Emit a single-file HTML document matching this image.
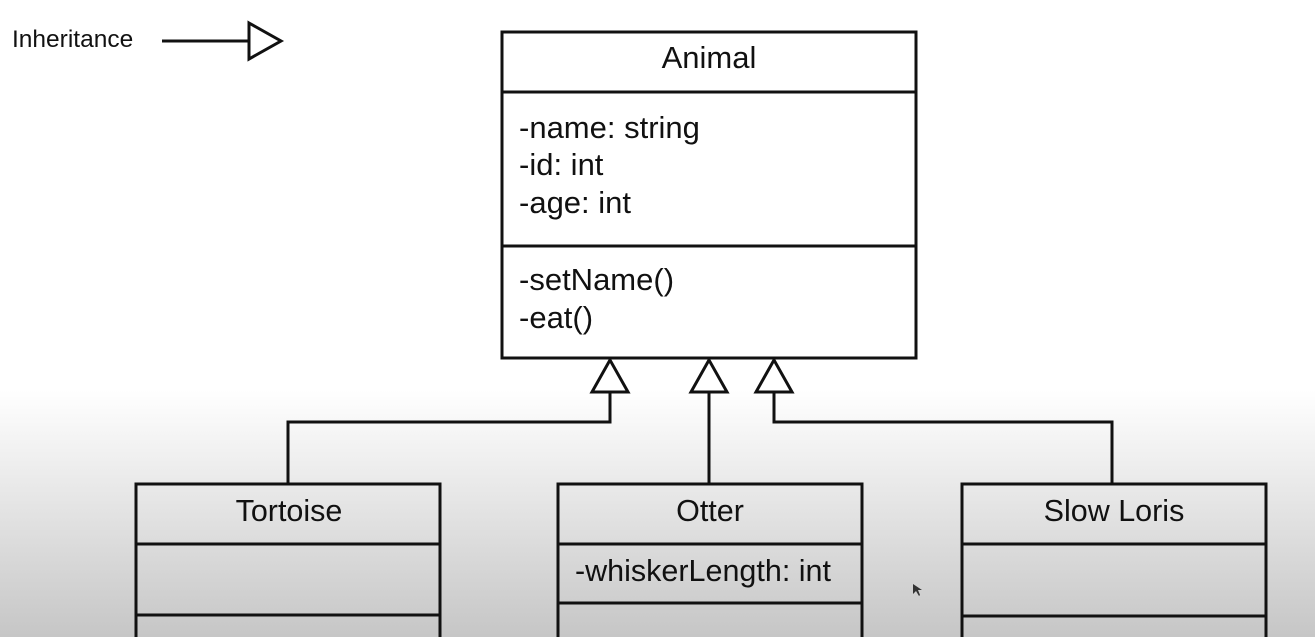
<!DOCTYPE html>
<html><head><meta charset="utf-8"><style>
html,body{margin:0;padding:0}
body{width:1315px;height:637px;overflow:hidden;background:linear-gradient(to bottom,#fff 0px,#fff 390px,#c6c6c6 637px);}
svg{position:absolute;left:0;top:0}
text{font-family:"Liberation Sans",sans-serif;fill:#111}
</style></head><body>
<svg width="1315" height="637" viewBox="0 0 1315 637">
<g stroke="#111" stroke-width="3" fill="none">
<line x1="162" y1="41" x2="249" y2="41"/>
<polygon points="249,23 281,41 249,59" fill="#fff"/>
<rect x="502" y="32" width="414" height="326"/>
<line x1="502" y1="92" x2="916" y2="92"/>
<line x1="502" y1="246" x2="916" y2="246"/>
<polyline points="610,392 610,422 288,422 288,484"/>
<line x1="709" y1="392" x2="709" y2="484"/>
<polyline points="774,392 774,422 1112,422 1112,484"/>
<polygon points="610,360 592,392 628,392" fill="#fff"/>
<polygon points="709,360 691,392 727,392" fill="#fff"/>
<polygon points="774,360 756,392 792,392" fill="#fff"/>
<rect x="136" y="484" width="304" height="170"/>
<line x1="136" y1="544" x2="440" y2="544"/>
<line x1="136" y1="615" x2="440" y2="615"/>
<rect x="558" y="484" width="304" height="170"/>
<line x1="558" y1="544" x2="862" y2="544"/>
<line x1="558" y1="603" x2="862" y2="603"/>
<rect x="962" y="484" width="304" height="170"/>
<line x1="962" y1="544" x2="1266" y2="544"/>
<line x1="962" y1="616" x2="1266" y2="616"/>
</g>
<text x="12" y="47" font-size="24.5">Inheritance</text>
<text x="709" y="68" font-size="31" text-anchor="middle">Animal</text>
<text x="519" y="138" font-size="31">-name: string</text>
<text x="519" y="175" font-size="31">-id: int</text>
<text x="519" y="213" font-size="31">-age: int</text>
<text x="519" y="290" font-size="31">-setName()</text>
<text x="519" y="328" font-size="31">-eat()</text>
<text x="289" y="521" font-size="30.5" text-anchor="middle">Tortoise</text>
<text x="710" y="521" font-size="30.5" text-anchor="middle">Otter</text>
<text x="575" y="581" font-size="30.5">-whiskerLength: int</text>
<text x="1114" y="521" font-size="30.5" text-anchor="middle">Slow Loris</text>
<polygon points="913,584 913,594 916,591 919,596 920,595 918,590 922,590" fill="#333"/>
</svg>
</body></html>
